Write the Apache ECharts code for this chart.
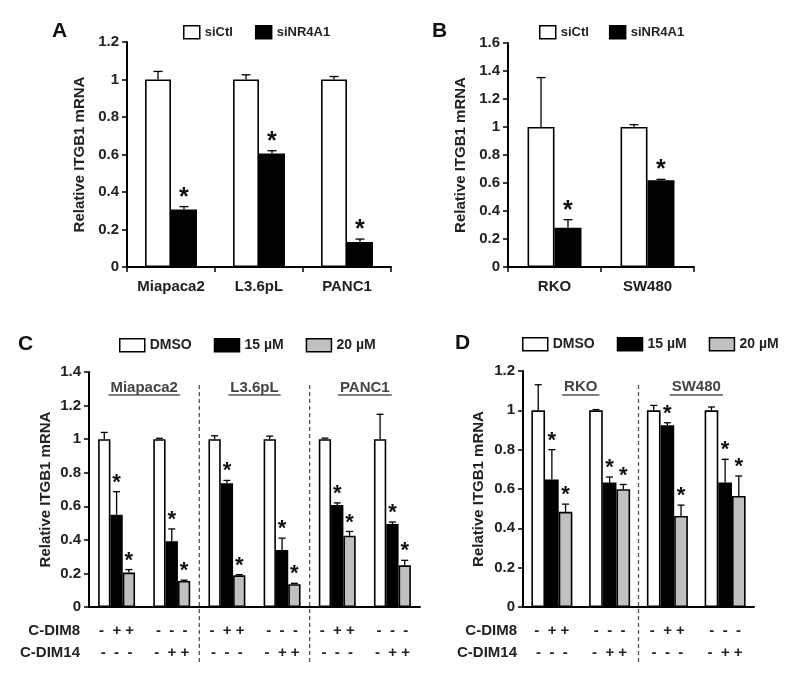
<!DOCTYPE html>
<html><head><meta charset="utf-8">
<script src="https://cdn.jsdelivr.net/npm/echarts@6/dist/echarts.min.js"></script>
<style>html,body{margin:0;padding:0;background:#fff}#c{width:800px;height:684px}</style>
</head><body><div id="c"></div>
<script>
const FF = '"Liberation Sans", Arial, sans-serif';

// ---- Panel A ----
const catsA = ['Miapaca2', 'L3.6pL', 'PANC1'];
const aCtl = [1, 1, 1];
const aCtlErr = [0.043, 0.025, 0.016];
const aSi = [0.307, 0.605, 0.133];
const aSiErr = [0.015, 0.015, 0.016];
const aSiStar = [1, 1, 1];

// ---- Panel B ----
const catsB = ['RKO', 'SW480'];
const bCtl = [1, 1];
const bCtlErr = [0.353, 0.017];
const bSi = [0.281, 0.619];
const bSiErr = [0.057, 0.007];
const bSiStar = [1, 1];

// ---- Panel C ----
const catsC = ['Miapaca2 C-DIM8', 'Miapaca2 C-DIM14', 'L3.6pL C-DIM8', 'L3.6pL C-DIM14', 'PANC1 C-DIM8', 'PANC1 C-DIM14'];
const groupsC = ['Miapaca2', 'L3.6pL', 'PANC1'];
const cDMSO = [1, 1, 1, 1, 1, 1];
const cDMSOErr = [0.04, 0.005, 0.02, 0.018, 0.006, 0.148];
const c15 = [0.55, 0.392, 0.737, 0.34, 0.608, 0.494];
const c15Err = [0.137, 0.073, 0.017, 0.07, 0.012, 0.012];
const c20 = [0.205, 0.155, 0.189, 0.136, 0.425, 0.248];
const c20Err = [0.018, 0.005, 0.004, 0.005, 0.025, 0.03];
const cStar = [1, 1, 1, 1, 1, 1];
const cNoStar = [0, 0, 0, 0, 0, 0];
const cDim8C = ['-  + +', '-  -  -', '-  + +', '-  -  -', '-  + +', '-  -  -'];
const cDim14C = ['-  -  -', '-  + +', '-  -  -', '-  + +', '-  -  -', '-  + +'];

// ---- Panel D ----
const catsD = ['RKO C-DIM8', 'RKO C-DIM14', 'SW480 C-DIM8', 'SW480 C-DIM14'];
const groupsD = ['RKO', 'SW480'];
const dDMSO = [1, 1, 1, 1];
const dDMSOErr = [0.13, 0.004, 0.025, 0.017];
const d15 = [0.648, 0.633, 0.924, 0.633];
const d15Err = [0.152, 0.028, 0.013, 0.118];
const d20 = [0.484, 0.599, 0.463, 0.565];
const d20Err = [0.039, 0.024, 0.055, 0.101];
const dStar = [1, 1, 1, 1];
const dNoStar = [0, 0, 0, 0];
const cDim8D = ['-  + +', '-  -  -', '-  + +', '-  -  -'];
const cDim14D = ['-  -  -', '-  + +', '-  -  -', '-  + +'];

const legendAB = ['siCtl', 'siNR4A1'];
const legendCD = ['DMSO', '15 µM', '20 µM'];

const WHITE = {color: '#fff', borderColor: '#000', borderWidth: 1.6};
const BLACK = {color: '#000', borderColor: '#000', borderWidth: 1.6};
const GRAY = {color: '#c0c0c0', borderColor: '#000', borderWidth: 1.6};

function bar(name, idx, data, gap, style) {
  return {type: 'bar', name: name, xAxisIndex: idx, yAxisIndex: idx, data: data,
    barGap: '0%', barCategoryGap: gap, itemStyle: style, silent: true, z: 2};
}
function err(name, idx, vals, errs, stars, barIdx, nBars, gap, capW, starSize) {
  return {
    type: 'custom', name: name + ' err', xAxisIndex: idx, yAxisIndex: idx, z: 5, silent: true,
    data: vals.map((v, i) => [i, v, errs[i], stars[i]]),
    renderItem: function (params, api) {
      const ci = api.value(0), v = api.value(1), e = api.value(2), s = api.value(3);
      const p0 = api.coord([ci, v]);
      const p1 = api.coord([ci, v + e]);
      const bw = api.size([1, 0])[0];
      const barW = bw * (1 - gap) / nBars;
      const x = p0[0] + (barIdx - (nBars - 1) / 2) * barW;
      const ch = [
        {type: 'line', shape: {x1: x, y1: p0[1], x2: x, y2: p1[1]}, style: {stroke: '#000', lineWidth: 1.3}},
        {type: 'line', shape: {x1: x - capW / 2, y1: p1[1], x2: x + capW / 2, y2: p1[1]}, style: {stroke: '#000', lineWidth: 1.3}}
      ];
      if (s) ch.push({type: 'text', x: x, y: p1[1] - 9,
        style: {text: '*', font: 'bold ' + starSize + 'px ' + FF, fill: '#111', align: 'center', verticalAlign: 'middle'}});
      return {type: 'group', children: ch};
    }
  };
}

const tickLbl = {fontSize: 15, fontWeight: 'bold', color: '#222', fontFamily: FF, margin: 8};
function yAx(idx, max, gap) {
  return {type: 'value', gridIndex: idx, min: 0, max: max, interval: 0.2,
    axisLine: {show: true, lineStyle: {color: '#000', width: 2}},
    axisTick: {show: true, length: 5, lineStyle: {color: '#000', width: 1.5}},
    splitLine: {show: false}, axisLabel: tickLbl,
    name: 'Relative ITGB1 mRNA', nameLocation: 'middle', nameGap: gap,
    nameTextStyle: {fontSize: 15, fontWeight: 'bold', color: '#222', fontFamily: FF}};
}
function xCat(idx, data, ticks) {
  return {type: 'category', gridIndex: idx, data: data,
    axisLine: {show: true, lineStyle: {color: '#000', width: 2}},
    axisTick: {show: ticks, length: 5, lineStyle: {color: '#000', width: 1.5}},
    axisLabel: {fontSize: 15, fontWeight: 'bold', color: '#222', fontFamily: FF, margin: 12, interval: 0}};
}
function xSign(idx, data, r1, r2) {
  const a = xCat(idx, data, false);
  a.axisLabel = {interval: 0, margin: 13, fontSize: 15, fontWeight: 'bold', color: '#222', fontFamily: FF, lineHeight: 22,
    formatter: (v, i) => r1[i] + '\n' + r2[i]};
  return a;
}
function xGroup(idx, data) {
  return {type: 'category', gridIndex: idx, data: data, position: 'top',
    axisLine: {show: false}, axisTick: {show: false},
    axisLabel: {inside: true, interval: 0, margin: 8, fontSize: 15, fontWeight: 'bold', color: '#444', fontFamily: FF}};
}
function legend(data, left, top, w, h, gap, fs) {
  return {data: data, left: left, top: top, padding: 0, itemWidth: w, itemHeight: h, itemGap: gap,
    icon: 'rect', selectedMode: false,
    itemStyle: {borderColor: '#000', borderWidth: 1.5},
    textStyle: {fontSize: fs, fontWeight: 'bold', color: '#222', fontFamily: FF}};
}
function letter(t, left, top) {
  return {text: t, left: left, top: top, padding: 0,
    textStyle: {fontSize: 21, fontWeight: 'bold', color: '#111', fontFamily: FF}};
}

const gA = 0.41, gB = 0.42, gC = 0.33, gD = 0.29;

const option = {
  animation: false,
  backgroundColor: '#fff',
  title: [letter('A', 52, 21), letter('B', 432, 21), letter('C', 18, 334), letter('D', 455, 333)],
  legend: [
    legend(legendAB, 183, 25, 16, 13, 22, 13),
    legend(legendAB, 539, 25, 16, 13, 20, 13),
    legend(legendCD, 119, 338, 25, 13, 22, 14),
    legend(legendCD, 522, 337, 25, 13, 22, 14)
  ],
  grid: [
    {left: 127, top: 42, width: 264, height: 225},
    {left: 508, top: 43, width: 186, height: 224},
    {left: 89, top: 372, width: 331, height: 235},
    {left: 523, top: 371, width: 231, height: 236}
  ],
  xAxis: [
    xCat(0, catsA, true), xCat(1, catsB, true),
    xSign(2, catsC, cDim8C, cDim14C), xSign(3, catsD, cDim8D, cDim14D),
    xGroup(2, groupsC), xGroup(3, groupsD)
  ],
  yAxis: [yAx(0, 1.2, 40), yAx(1, 1.6, 40), yAx(2, 1.4, 36), yAx(3, 1.2, 37)],
  series: [
    bar('siCtl', 0, aCtl, gA * 100 + '%', WHITE), bar('siNR4A1', 0, aSi, gA * 100 + '%', BLACK),
    err('siCtl A', 0, aCtl, aCtlErr, [0, 0, 0], 0, 2, gA, 9, 25),
    err('siNR4A1 A', 0, aSi, aSiErr, aSiStar, 1, 2, gA, 9, 25),
    bar('siCtl', 1, bCtl, gB * 100 + '%', WHITE), bar('siNR4A1', 1, bSi, gB * 100 + '%', BLACK),
    err('siCtl B', 1, bCtl, bCtlErr, [0, 0], 0, 2, gB, 9, 25),
    err('siNR4A1 B', 1, bSi, bSiErr, bSiStar, 1, 2, gB, 9, 25),
    bar('DMSO', 2, cDMSO, gC * 100 + '%', WHITE), bar('15 µM', 2, c15, gC * 100 + '%', BLACK), bar('20 µM', 2, c20, gC * 100 + '%', GRAY),
    err('DMSO C', 2, cDMSO, cDMSOErr, cNoStar, 0, 3, gC, 7, 22),
    err('15 C', 2, c15, c15Err, cStar, 1, 3, gC, 7, 22),
    err('20 C', 2, c20, c20Err, cStar, 2, 3, gC, 7, 22),
    bar('DMSO', 3, dDMSO, gD * 100 + '%', WHITE), bar('15 µM', 3, d15, gD * 100 + '%', BLACK), bar('20 µM', 3, d20, gD * 100 + '%', GRAY),
    err('DMSO D', 3, dDMSO, dDMSOErr, dNoStar, 0, 3, gD, 7, 22),
    err('15 D', 3, d15, d15Err, dStar, 1, 3, gD, 7, 22),
    err('20 D', 3, d20, d20Err, dStar, 2, 3, gD, 7, 22)
  ]
};

const chart = echarts.init(document.getElementById('c'), null, {renderer: 'canvas'});
chart.setOption(option);

// decorations: row labels, underlines, dashed separators
const ctx = document.createElement('canvas').getContext('2d');
ctx.font = 'bold 15px ' + FF;
const gfx = [];
const rowFont = 'bold 15px ' + FF;
[80, 517].forEach((x) => {
  gfx.push({type: 'text', x: x, y: 631, style: {text: 'C-DIM8', font: rowFont, fill: '#222', align: 'right', verticalAlign: 'middle'}});
  gfx.push({type: 'text', x: x, y: 653, style: {text: 'C-DIM14', font: rowFont, fill: '#222', align: 'right', verticalAlign: 'middle'}});
});
function underline(axisIdx, names, y) {
  names.forEach((n, i) => {
    const cx = chart.convertToPixel({xAxisIndex: axisIdx}, i);
    const w = ctx.measureText(n).width + 4;
    gfx.push({type: 'line', shape: {x1: cx - w / 2, y1: y, x2: cx + w / 2, y2: y}, style: {stroke: '#555', lineWidth: 1.5}});
  });
}
underline(4, groupsC, 395);
underline(5, groupsD, 395);
function sep(axisIdx, i) {
  const x = (chart.convertToPixel({xAxisIndex: axisIdx}, i) + chart.convertToPixel({xAxisIndex: axisIdx}, i + 1)) / 2;
  gfx.push({type: 'line', shape: {x1: x, y1: 385, x2: x, y2: 663}, style: {stroke: '#555', lineWidth: 1.3, lineDash: [4, 3]}});
}
sep(2, 1); sep(2, 3); sep(3, 1);
chart.setOption({graphic: gfx});
</script></body></html>
